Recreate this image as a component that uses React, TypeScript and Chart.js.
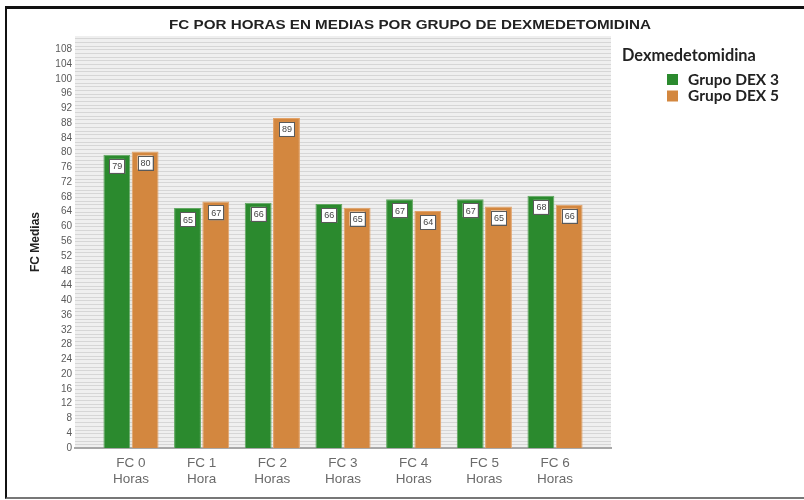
import React, { useEffect, useRef } from 'react';
import { Chart, registerables } from 'chart.js';

Chart.register(...registerables);

const categories: string[][] = [
  ['FC 0', 'Horas'],
  ['FC 1', 'Hora'],
  ['FC 2', 'Horas'],
  ['FC 3', 'Horas'],
  ['FC 4', 'Horas'],
  ['FC 5', 'Horas'],
  ['FC 6', 'Horas'],
];
const dex3: number[] = [79.4, 65.0, 66.4, 66.1, 67.4, 67.4, 68.3];
const dex5: number[] = [80.3, 66.8, 89.4, 65.1, 64.2, 65.4, 65.9];
const seriesNames: string[] = ['Grupo DEX 3', 'Grupo DEX 5'];
const seriesColors: string[] = ['#2b8a2e', '#d3873f'];
const seriesBorders: string[] = ['#62a862', '#e2a268'];
const chartTitle = 'FC POR HORAS EN MEDIAS POR GRUPO DE DEXMEDETOMIDINA';
const legendTitle = 'Dexmedetomidina';
const yTitle = 'FC Medias';
const yMax = 111.6;
const yStep = 4;
const yTickMax = 108;

function fitFont(ctx: CanvasRenderingContext2D, text: string, target: number, tpl: (s: number) => string) {
  ctx.font = tpl(20);
  const w = ctx.measureText(text).width;
  const size = (20 * target) / w;
  ctx.font = tpl(size);
  return size;
}

const overlayPlugin = {
  id: 'overlay',
  beforeDraw(chart: any) {
    const { ctx, chartArea } = chart;
    const y = chart.scales.y;
    ctx.save();
    ctx.fillStyle = '#efefef';
    ctx.fillRect(chartArea.left, chartArea.top, chartArea.right - chartArea.left, chartArea.bottom - chartArea.top);
    ctx.strokeStyle = '#d6d6d6';
    ctx.lineWidth = 1;
    for (let v = 1; v < yMax; v += 1) {
      const py = Math.round(y.getPixelForValue(v)) + 0.5;
      ctx.beginPath();
      ctx.moveTo(chartArea.left, py);
      ctx.lineTo(chartArea.right, py);
      ctx.stroke();
    }
    ctx.restore();
  },
  afterDatasetsDraw(chart: any) {
    const { ctx } = chart;
    ctx.save();
    chart.data.datasets.forEach((ds: any, di: number) => {
      const meta = chart.getDatasetMeta(di);
      meta.data.forEach((el: any, i: number) => {
        const v = ds.data[i].y;
        const w = 15;
        const h = 14;
        const bx = el.x - w / 2;
        const by = el.y + 4;
        ctx.fillStyle = '#8a8a8a';
        ctx.fillRect(bx + 1, by + 1, w, h);
        ctx.fillStyle = '#ffffff';
        ctx.fillRect(bx, by, w, h);
        ctx.strokeStyle = '#5a5a5a';
        ctx.lineWidth = 1;
        ctx.strokeRect(Math.round(bx) + 0.5, Math.round(by) + 0.5, w, h);
        ctx.fillStyle = '#444';
        ctx.font = '9px "Liberation Sans", Arial, sans-serif';
        ctx.textAlign = 'center';
        ctx.textBaseline = 'middle';
        ctx.fillText(String(Math.round(v)), el.x + 0.5, by + h / 2 + 1);
      });
    });
    ctx.restore();
  },
  afterDraw(chart: any) {
    const { ctx } = chart;
    ctx.save();
    ctx.fillStyle = '#222';
    ctx.textAlign = 'center';
    ctx.textBaseline = 'middle';
    ctx.font = 'bold 13px "Liberation Sans", Arial, sans-serif';
    const tw = ctx.measureText(chartTitle).width;
    ctx.translate(410, 25.5);
    ctx.scale(482 / tw, 1);
    ctx.fillText(chartTitle, 0, 0);
    ctx.restore();

    ctx.save();
    ctx.fillStyle = '#222';
    ctx.textAlign = 'left';
    ctx.textBaseline = 'middle';
    fitFont(ctx, legendTitle, 134, (s) => `bold ${s}px Lato, "Open Sans", sans-serif`);
    ctx.fillText(legendTitle, 622, 56);
    chart.data.datasets.forEach((ds: any, i: number) => {
      const cy = 79.5 + i * 16.5;
      ctx.fillStyle = ds.backgroundColor;
      ctx.fillRect(667, cy - 5.5, 11, 11);
      ctx.fillStyle = '#222';
      fitFont(ctx, 'Grupo DEX 3', 91, (s) => `bold ${s}px Lato, "Open Sans", sans-serif`);
      ctx.fillText(ds.label, 688, cy);
    });
    ctx.restore();
  },
};

export default function App() {
  const ref = useRef<HTMLCanvasElement | null>(null);

  useEffect(() => {
    if (!ref.current) return;
    const datasets = [dex3, dex5].map((vals, si) => ({
      label: seriesNames[si],
      data: vals.map((v, i) => ({ x: i, y: v })),
      backgroundColor: seriesColors[si],
      borderColor: seriesBorders[si],
      borderWidth: 1,
      categoryPercentage: 0.8,
      barPercentage: 0.95,
    }));
    const chart = new Chart(ref.current, {
      type: 'bar',
      data: { datasets },
      plugins: [overlayPlugin],
      options: {
        animation: false,
        responsive: false,
        layout: { padding: { left: 24, right: 193, top: 36, bottom: 0 } },
        plugins: {
          legend: { display: false },
          title: { display: false },
          tooltip: { enabled: false },
        },
        scales: {
          x: {
            type: 'linear',
            offset: false,
            min: -0.792,
            max: 6.792,
            afterBuildTicks: (axis: any) => {
              axis.ticks = categories.map((_, i) => ({ value: i }));
            },
            afterFit: (axis: any) => {
              axis.height = 52;
            },
            ticks: {
              callback: (value: any) => categories[Math.round(Number(value))] ?? '',
              color: '#6a6a6a',
              font: { family: '"Liberation Sans", Arial, sans-serif', size: 13.5, lineHeight: 1.2 },
              padding: 7,
              maxRotation: 0,
              autoSkip: false,
            },
            grid: { display: false, drawTicks: false, offset: false },
            border: { display: true, color: '#a8a8a8', width: 2 },
          },
          y: {
            min: 0,
            max: yMax,
            afterFit: (axis: any) => {
              axis.width = 51;
            },
            ticks: {
              stepSize: yStep,
              includeBounds: false,
              callback: (value: any) => (Number(value) <= yTickMax ? String(value) : ''),
              color: '#5a5a5a',
              font: { family: '"Liberation Sans", Arial, sans-serif', size: 10 },
              padding: 3,
              autoSkip: false,
            },
            grid: { display: false, drawTicks: false },
            border: { display: false },
            title: {
              display: true,
              text: yTitle,
              color: '#222',
              font: { family: '"Liberation Sans", Arial, sans-serif', size: 12, weight: 'bold', lineHeight: 1.2 },
              padding: { top: 4, bottom: 4 },
            },
          },
        },
      } as any,
    });
    return () => chart.destroy();
  }, []);

  return (
    <div style={{ position: 'fixed', left: 0, top: 0, width: 804, height: 500, background: '#fff', overflow: 'hidden' }}>
      <canvas ref={ref} width={804} height={500} style={{ display: 'block' }} />
      <div
        style={{
          position: 'absolute',
          left: 5,
          top: 6,
          width: 820,
          height: 493,
          boxSizing: 'border-box',
          borderTop: '3px solid #111',
          borderLeft: '2px solid #111',
          borderBottom: '2px solid #777',
          pointerEvents: 'none',
        }}
      />
    </div>
  );
}
